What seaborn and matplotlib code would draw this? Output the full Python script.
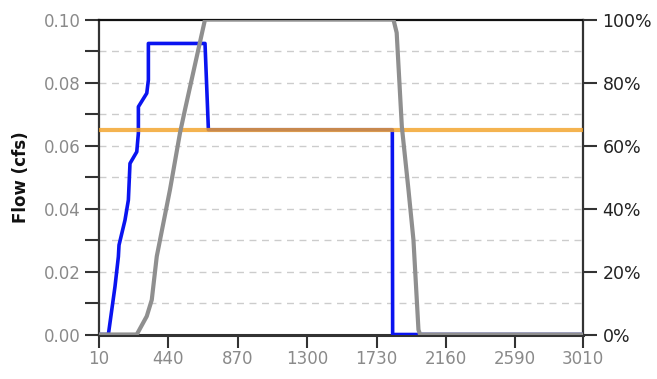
import matplotlib
matplotlib.use("Agg")
import matplotlib.pyplot as plt
import seaborn as sns
import pandas as pd
from matplotlib.ticker import FixedLocator, FuncFormatter

sns.set_theme(style="white")
plt.rcParams["font.family"] = ["DejaVu Sans"]

# Flow hydrograph (cfs) over time
flow_t = [10, 68, 109, 130, 134, 171, 192, 202, 244, 254, 254, 306, 316, 316,
          667, 688, 1828, 1830, 3010]
flow_q = [0.0, 0.0, 0.0152, 0.0247, 0.0284, 0.0363, 0.0427, 0.0543, 0.058,
          0.0639, 0.0723, 0.0766, 0.0808, 0.0924, 0.0924, 0.065, 0.065, 0.0,
          0.0]

# Percent of time exceeded
pct_t = [10, 244, 306, 337, 368, 409, 450, 512, 543, 667, 1835, 1855, 1887,
         1928, 1959, 1990, 2000, 3010]
pct_v = [0, 0, 5.8, 11, 24.8, 35.4, 46, 64, 71.4, 100, 100, 95.8, 66, 46, 30,
         1.5, 0, 0]

# Threshold flow
thresh_t = [10, 3010]
thresh_q = [0.065, 0.065]

x_ticks = [10, 440, 870, 1300, 1730, 2160, 2590, 3010]
left_ticks = [0.00, 0.02, 0.04, 0.06, 0.08, 0.10]
right_ticks = [0, 20, 40, 60, 80, 100]

flow_df = pd.DataFrame({"t": flow_t, "q": flow_q})
pct_df = pd.DataFrame({"t": pct_t, "p": pct_v})
thr_df = pd.DataFrame({"t": thresh_t, "q": thresh_q})

fig = plt.figure(figsize=(6.57, 3.79), dpi=100)
ax = fig.add_axes([0.1507, 0.1174, 0.7367, 0.8311])
ax.set_facecolor("white")

# dashed horizontal grid every 0.01
for g in [0.01 * i for i in range(1, 10)]:
    ax.axhline(g, color="#cccccc", lw=1.0, ls=(0, (5, 4)), zorder=0)

sns.lineplot(data=flow_df, x="t", y="q", ax=ax, color="#0a14f0", lw=2.6,
             estimator=None, sort=False, zorder=3)
sns.lineplot(data=thr_df, x="t", y="q", ax=ax, color="#f2a22a", lw=3.0,
             alpha=0.82, estimator=None, sort=False, zorder=4)

ax.set_xlim(10, 3010)
ax.set_ylim(0, 0.10)
ax.set_xticks(x_ticks)
ax.set_xticklabels([str(v) for v in x_ticks])
ax.set_yticks(left_ticks)
ax.yaxis.set_major_formatter(FuncFormatter(lambda v, p: f"{v:.2f}"))
ax.yaxis.set_minor_locator(FixedLocator([0.01, 0.03, 0.05, 0.07, 0.09]))
ax.tick_params(axis="y", which="both", direction="out", length=10, width=1.5,
               color="#333333", labelsize=12, labelcolor="#8a8a8a", pad=3,
               left=True)
ax.tick_params(axis="x", which="major", direction="out", length=9, width=1.5,
               color="#333333", labelsize=12, labelcolor="#8a8a8a", pad=2,
               bottom=True)
ax.set_xlabel("")
ax.set_ylabel("Flow (cfs)", fontsize=12, fontweight="bold", color="#111111",
              labelpad=10)

for side, w, c in [("top", 1.6, "#111111"), ("bottom", 2.2, "#333333"),
                   ("left", 1.6, "#333333"), ("right", 1.6, "#333333")]:
    ax.spines[side].set_visible(True)
    ax.spines[side].set_linewidth(w)
    ax.spines[side].set_color(c)

ax2 = ax.twinx()
sns.lineplot(data=pct_df, x="t", y="p", ax=ax2, color="#8f8f8f", lw=3.0,
             estimator=None, sort=False, zorder=5)
ax2.set_ylim(0, 100)
ax2.set_yticks(right_ticks)
ax2.yaxis.set_major_formatter(FuncFormatter(lambda v, p: f"{v:.0f}%"))
ax2.tick_params(axis="y", direction="out", length=10, width=1.5,
                color="#333333", labelsize=12.5, labelcolor="#222222", pad=4,
                right=True)
ax2.set_ylabel("")
for s in ax2.spines.values():
    s.set_visible(False)

fig.savefig("out.png", dpi=100, facecolor="white")
